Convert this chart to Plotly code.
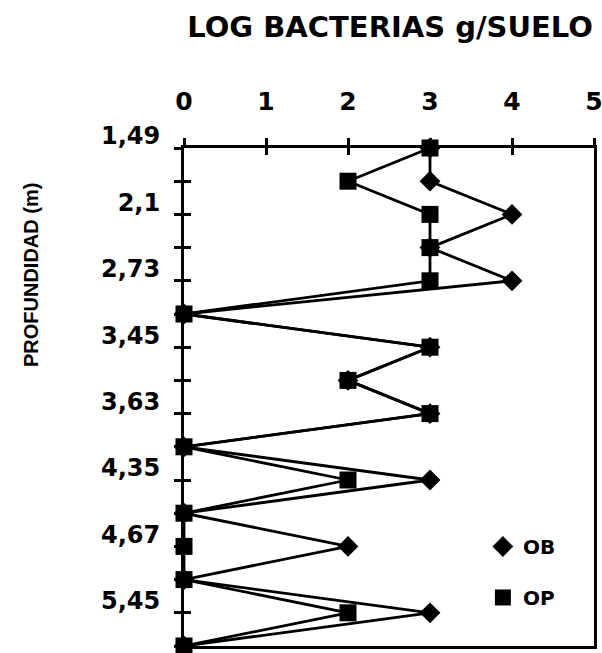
import plotly.graph_objects as go

# Data
depth_positions = list(range(16))
depth_labels = ["1,49", "", "2,1", "", "2,73", "", "3,45", "", "3,63", "", "4,35", "", "4,67", "", "5,45", ""]
ob_values = [3, 3, 4, 3, 4, 0, 3, 2, 3, 0, 3, 0, 2, 0, 3, 0]
op_values = [3, 2, 3, 3, 3, 0, 3, 2, 3, 0, 2, 0, 0, 0, 2, 0]
x_ticks = [0, 1, 2, 3, 4, 5]

FONT = "DejaVu Sans"
BLACK = "black"

fig = go.Figure()
fig.add_trace(go.Scatter(x=ob_values, y=depth_positions, mode="lines+markers",
                         line=dict(color=BLACK, width=2.8),
                         marker=dict(symbol="diamond", size=16, color=BLACK),
                         cliponaxis=False, showlegend=False))
fig.add_trace(go.Scatter(x=op_values, y=depth_positions, mode="lines+markers",
                         line=dict(color=BLACK, width=2.8),
                         marker=dict(symbol="square", size=17, color=BLACK),
                         cliponaxis=False, showlegend=False))
# legend entries (marker only)
fig.add_trace(go.Scatter(x=[None], y=[None], mode="markers", name="OB", legendgroup="ob",
                         marker=dict(symbol="diamond", size=16, color=BLACK)))
fig.add_trace(go.Scatter(x=[None], y=[None], mode="markers", name="OP", legendgroup="op",
                         marker=dict(symbol="square", size=17, color=BLACK)))
# helper trace for the overlay axes (inner half of crossing ticks)
fig.add_trace(go.Scatter(x=[None], y=[None], xaxis="x2", yaxis="y2", showlegend=False, hoverinfo="skip"))

fig.update_layout(
    width=602, height=653,
    margin=dict(l=184, r=8, t=148, b=7, autoexpand=False),
    paper_bgcolor="white", plot_bgcolor="white",
    title=dict(text="LOG BACTERIAS g/SUELO", x=0.648, xanchor="center", y=0.9587, yanchor="middle",
               font=dict(family=FONT, size=29, color=BLACK, weight="bold")),
    xaxis=dict(range=[0, 5], side="top", tickvals=x_ticks, ticks="outside", ticklen=7, tickwidth=2.5,
               tickcolor=BLACK, showline=True, linewidth=3, linecolor=BLACK, mirror=True,
               showgrid=False, zeroline=False, ticklabelstandoff=18, automargin=False,
               ticklabeloverflow="allow",
               tickfont=dict(family=FONT, size=25, color=BLACK, weight="bold")),
    yaxis=dict(range=[15, 0], tickvals=depth_positions, ticktext=depth_labels, ticks="outside",
               ticklen=7, tickwidth=2.5, tickcolor=BLACK, showline=True, linewidth=3, linecolor=BLACK,
               mirror=True, showgrid=False, zeroline=False, ticklabelstandoff=9, ticklabelshift=12,
               automargin=False, ticklabeloverflow="allow",
               tickfont=dict(family=FONT, size=24, color=BLACK, weight="bold")),
    xaxis2=dict(range=[0, 5], overlaying="x", side="top", tickvals=x_ticks, ticks="inside", ticklen=7,
                tickwidth=2.5, tickcolor=BLACK, showticklabels=False, showline=False,
                showgrid=False, zeroline=False, automargin=False),
    yaxis2=dict(range=[15, 0], overlaying="y", side="left", tickvals=depth_positions, ticks="inside",
                ticklen=7, tickwidth=2.5, tickcolor=BLACK, showticklabels=False, showline=False,
                showgrid=False, zeroline=False, automargin=False),
    legend=dict(x=0.729, y=0.239, xanchor="left", yanchor="top", bgcolor="rgba(0,0,0,0)",
                font=dict(family=FONT, size=20, color=BLACK, weight="bold"),
                tracegroupgap=22, itemwidth=30, traceorder="grouped"),
    annotations=[dict(text="PROFUNDIDAD (m)", textangle=-90, xref="paper", yref="paper",
                      x=-0.373, y=0.745, xanchor="center", yanchor="middle", showarrow=False,
                      font=dict(family="Liberation Sans", size=20, color=BLACK, weight="bold"))],
)

fig.write_html("out.html", config={"displayModeBar": False},
               post_script="document.body.style.margin='0';document.body.style.overflow='hidden';")
